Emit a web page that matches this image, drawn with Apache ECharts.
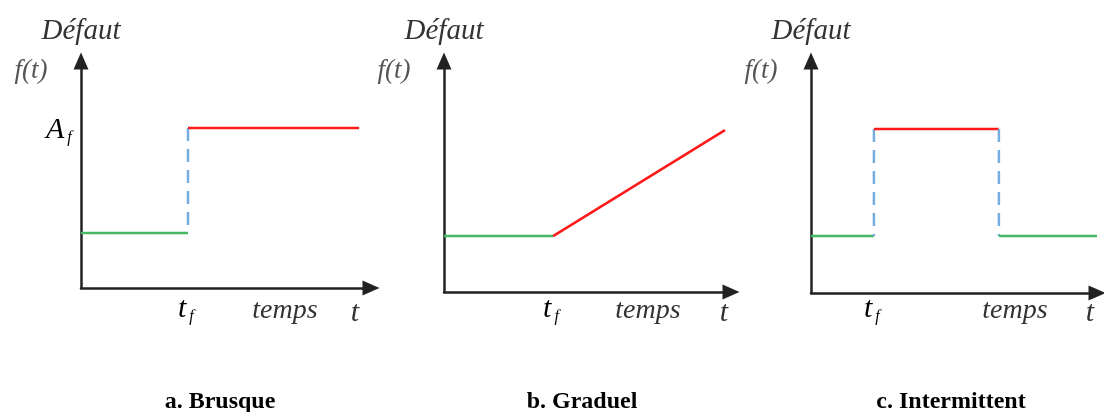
<!DOCTYPE html>
<html>
<head>
<meta charset="utf-8">
<script src="https://cdn.jsdelivr.net/npm/echarts@6/dist/echarts.min.js"></script>
<style>
  html, body { margin: 0; padding: 0; background: #fff; }
  #chart { width: 1104px; height: 412px; }
</style>
</head>
<body>
<div id="chart"></div>
<script>
// a. Brusque : [début, t_f, fin] / [niveau nominal, A_f]
const brusqueT = [0, 3.69, 9.59];
const brusqueF = [2.42, 7.05];
// b. Graduel
const graduelT = [0, 3.8, 9.79];
const graduelF = [2.42, 7.01];
// c. Intermittent : [début, t_f, fin du défaut, fin]
const intermT = [0, 2.2, 6.57, 10];
const intermF = [2.46, 7.07];

const captions = ['a. Brusque', 'b. Graduel', 'c. Intermittent'];

const GREEN = '#45b866';
const RED = '#ff1a1a';
const BLUE = '#76ade0';
const AXIS = '#222';
const SERIF = '"Liberation Serif", "DejaVu Serif", serif';

// mise en page des trois vignettes
const grids = [
  { left: 81, top: 61, width: 290, height: 227 },
  { left: 444, top: 61, width: 287, height: 231 },
  { left: 811, top: 61, width: 286, height: 232 }
];
const captionX = [215, 577, 946];

function seg(data, color, dashed) {
  return {
    type: 'line', data: data, symbol: 'none', silent: true,
    lineStyle: { color: color, width: 2.5, type: dashed ? [13, 8] : 'solid', cap: 'butt' }
  };
}

function panelSeries(kind, T, F) {
  let s = [];
  s.push(seg([[T[0], F[0]], [T[1], F[0]]], GREEN));
  if (kind === 'graduel') {
    s.push(seg([[T[1], F[0]], [T[2], F[1]]], RED));
  } else {
    s.push(seg([[T[1], F[1]], [T[1], F[0]]], BLUE, true));
    s.push(seg([[T[1], F[1]], [T[2], F[1]]], RED));
    if (kind === 'intermittent') {
      s.push(seg([[T[2], F[1]], [T[2], F[0]]], BLUE, true));
      s.push(seg([[T[2], F[0]], [T[3], F[0]]], GREEN));
    }
  }
  return s;
}

const chart = echarts.init(document.getElementById('chart'));

const axisLine = {
  show: true, onZero: false,
  symbol: ['none', 'triangle'], symbolSize: [15, 17],
  lineStyle: { color: AXIS, width: 2.5 }
};

const xAxes = grids.map((g, i) => ({
  type: 'value', gridIndex: i, min: 0, max: 10,
  axisLine: axisLine, axisTick: { show: false }, axisLabel: { show: false }, splitLine: { show: false }
}));
const yAxes = grids.map((g, i) => ({
  type: 'value', gridIndex: i, min: 0, max: 10,
  name: 'Défaut', nameLocation: 'end', nameGap: 15,
  nameTextStyle: { fontFamily: SERIF, fontStyle: 'italic', fontSize: 29, color: '#333', align: 'center' },
  axisLine: axisLine, axisTick: { show: false }, axisLabel: { show: false }, splitLine: { show: false }
}));

const kinds = ['brusque', 'graduel', 'intermittent'];
const Ts = [brusqueT, graduelT, intermT];
const Fs = [brusqueF, graduelF, intermF];

let series = [];
kinds.forEach((k, i) => {
  panelSeries(k, Ts[i], Fs[i]).forEach(s => {
    s.xAxisIndex = i; s.yAxisIndex = i;
    series.push(s);
  });
});

chart.setOption({
  animation: false,
  grid: grids.map(g => Object.assign({ containLabel: false }, g)),
  xAxis: xAxes,
  yAxis: yAxes,
  title: captions.map((c, i) => ({
    text: c, left: captionX[i], top: 385, textAlign: 'center',
    textStyle: { fontFamily: SERIF, fontWeight: 'bold', fontSize: 24, color: '#000' }
  })),
  series: series
});

// textes mathématiques placés à partir des échelles
const it = { fontFamily: SERIF, fontStyle: 'italic', fill: '#333' };
const sub = {
  m: { fontFamily: SERIF, fontStyle: 'italic', fontSize: 30, color: '#333' },
  s: { fontFamily: SERIF, fontStyle: 'italic', fontSize: 16, color: '#333', padding: [16, 0, 0, 3] }
};
let graphic = [];
kinds.forEach((k, i) => {
  const o = chart.convertToPixel({ gridIndex: i }, [0, 0]);
  const e = chart.convertToPixel({ gridIndex: i }, [10, 10]);
  const tf = chart.convertToPixel({ gridIndex: i }, [Ts[i][1], 0]);
  graphic.push({ type: 'text', x: o[0] - 50, y: 71, style: Object.assign({ text: 'f(t)', fontSize: 27, align: 'center', verticalAlign: 'middle' }, it, { fill: '#555' }) });
  graphic.push({ type: 'text', x: tf[0] - 10, y: 293, style: { text: '{m|t}{s|f}', rich: sub } });
  graphic.push({ type: 'text', x: o[0] + 204, y: 311, style: Object.assign({ text: 'temps', fontSize: 28, align: 'center', verticalAlign: 'middle' }, it) });
  graphic.push({ type: 'text', x: e[0] - (i === 0 ? 16 : 7), y: 313, style: Object.assign({ text: 't', fontSize: 30, align: 'center', verticalAlign: 'middle' }, it) });
});
const af = chart.convertToPixel({ gridIndex: 0 }, [0, brusqueF[1]]);
graphic.push({ type: 'text', x: af[0] - 35, y: af[1] - 14, style: { text: '{m|A}{s|f}', rich: sub } });

chart.setOption({ graphic: graphic });
</script>
</body>
</html>
